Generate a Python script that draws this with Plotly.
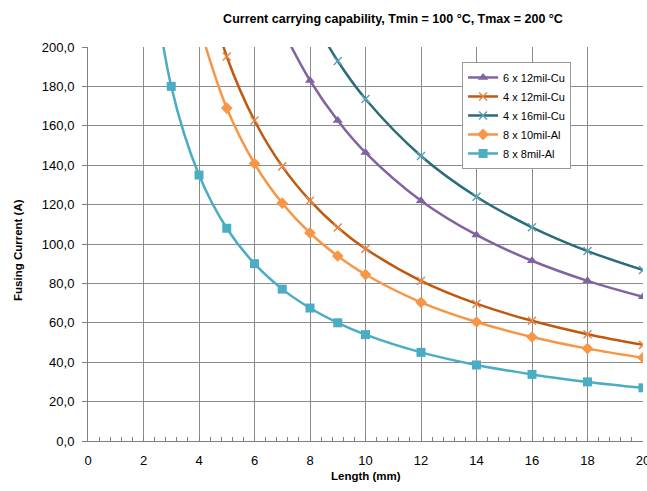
import plotly.graph_objects as go

# Length (mm)
length_mm = [2, 3, 4, 5, 6, 7, 8, 9, 10, 12, 14, 16, 18, 20]

# Fusing current (A) per series (None = not drawn)
cu_6x12 = [None, None, None, None, None, 209.1, 183.0, 162.7, 146.4, 122.0, 104.6, 91.5, 81.3, 73.2]
cu_4x12 = [None, None, 244.0, 195.2, 162.7, 139.4, 122.0, 108.4, 97.6, 81.3, 69.7, 61.0, 54.2, 48.8]
cu_4x16 = [None, None, None, None, None, None, 217.0, 192.9, 173.6, 144.7, 124.0, 108.5, 96.4, 86.8]
al_8x10 = [None, None, 211.3, 169.0, 140.8, 120.7, 105.6, 93.9, 84.5, 70.4, 60.4, 52.8, 46.9, 42.3]
al_8x8 = [270.0, 180.0, 135.0, 108.0, 90.0, 77.1, 67.5, 60.0, 54.0, 45.0, 38.6, 33.8, 30.0, 27.0]

series_names = ["6 x 12mil-Cu", "4 x 12mil-Cu", "4 x 16mil-Cu", "8 x 10mil-Al", "8 x 8mil-Al"]

y_ticks = [0, 20, 40, 60, 80, 100, 120, 140, 160, 180, 200]
y_tick_text = ["0,0", "20,0", "40,0", "60,0", "80,0", "100,0", "120,0", "140,0", "160,0", "180,0", "200,0"]
x_ticks = [0, 2, 4, 6, 8, 10, 12, 14, 16, 18, 20]

styles = [
    dict(color="#8064A2", symbol="triangle-up", size=9, mline="#8064A2", mw=0),
    dict(color="#C0590F", symbol="x-thin", size=8, mline="#E5894A", mw=1.5),
    dict(color="#2A6B7C", symbol="x-thin", size=8, mline="#5FA2B5", mw=1.5),
    dict(color="#F79646", symbol="diamond", size=9, mline="#F79646", mw=0),
    dict(color="#4BACC6", symbol="square", size=9, mline="#4BACC6", mw=0),
]

fig = go.Figure()
for name, vals, st in zip(series_names, [cu_6x12, cu_4x12, cu_4x16, al_8x10, al_8x8], styles):
    fig.add_trace(go.Scatter(
        x=length_mm, y=vals, name=name, mode="lines+markers",
        line=dict(color=st["color"], width=2.5, shape="spline", smoothing=1),
        marker=dict(symbol=st["symbol"], size=st["size"], color=st["color"],
                    line=dict(color=st["mline"], width=st["mw"])),
    ))

fig.update_layout(
    width=647, height=491,
    margin=dict(l=88, r=4, t=47, b=50, autoexpand=False),
    paper_bgcolor="white", plot_bgcolor="white",
    font=dict(family="Liberation Sans, Arial, sans-serif", size=13, color="#000"),
    title=dict(text="<b>Current carrying capability, Tmin = 100 °C, Tmax = 200 °C</b>",
               x=393 / 647, xref="container", xanchor="center",
               y=1 - 19 / 491, yref="container", yanchor="middle",
               font=dict(size=12.5, color="#000")),
    showlegend=True,
    legend=dict(x=0.674, y=0.962, xanchor="left", yanchor="top",
                bgcolor="white", bordercolor="#999999", borderwidth=1,
                font=dict(size=11), tracegroupgap=0, itemwidth=30),
    xaxis=dict(
        range=[0, 20], tickvals=x_ticks, ticks="inside", ticklen=5, tickcolor="#808080",
        showgrid=True, gridcolor="#8C8C8C", gridwidth=1,
        showline=True, linecolor="#808080", linewidth=1, zeroline=False,
        minor=dict(dtick=0.4, tick0=0, ticks="inside", ticklen=4, tickcolor="#808080", showgrid=False),
        tickfont=dict(size=13), automargin=False, ticklabeloverflow="allow",
        ticklabelstandoff=7,
    ),
    yaxis=dict(
        range=[0, 200], tickvals=y_ticks, ticktext=y_tick_text, ticks="outside", ticklen=5,
        tickcolor="#808080",
        showgrid=True, gridcolor="#8C8C8C", gridwidth=1,
        showline=True, linecolor="#808080", linewidth=1, zeroline=False,
        tickfont=dict(size=13), automargin=False, ticklabelstandoff=5,
    ),
    annotations=[
        dict(text="<b>Length (mm)</b>", xref="paper", yref="paper",
             x=(366 - 88) / 555, y=-(476 - 441) / 394, xanchor="center", yanchor="middle",
             showarrow=False, font=dict(size=11.5)),
        dict(text="<b>Fusing Current (A)</b>", xref="paper", yref="paper",
             x=-(88 - 18) / 555, y=(441 - 250) / 394, xanchor="center", yanchor="middle",
             textangle=-90, showarrow=False, font=dict(size=11.5)),
    ],
)

fig.write_html("out.html", config={"displayModeBar": False},
               post_script="document.body.style.margin='0px';document.body.style.overflow='hidden';")
